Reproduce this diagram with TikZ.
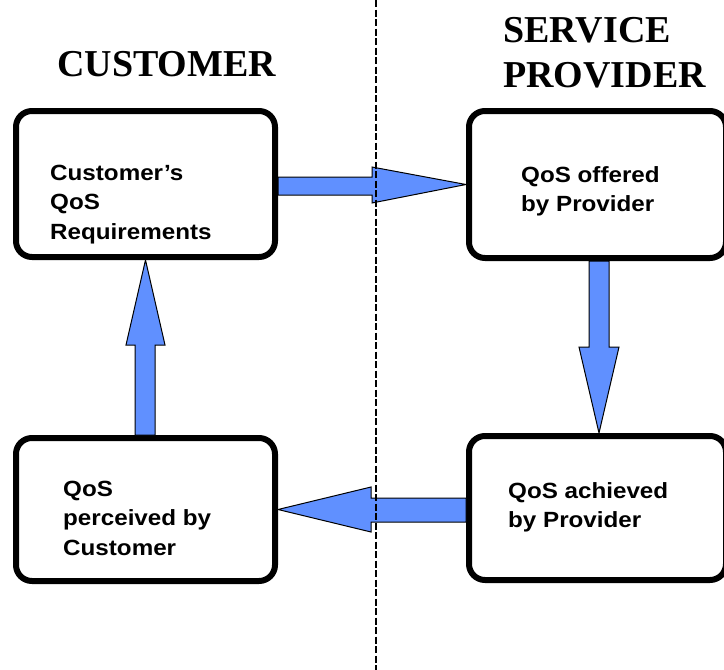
\documentclass[tikz,border=0pt]{standalone}
\usepackage{fontspec}
\setmainfont{Liberation Sans}
\newfontfamily\titlefont{Liberation Serif}
\usetikzlibrary{calc}
\definecolor{arrowblue}{RGB}{96,144,255}
\tikzset{
  box/.style={draw=black, line width=6pt, rounded corners=16pt, fill=white, inner sep=0pt},
  blockarrow/.style={draw=black, line width=1pt, fill=arrowblue, line join=miter},
  boxtext/.style={anchor=base west, inner sep=0pt, font=\fontsize{22}{29.5}\selectfont\bfseries},
  titletext/.style={anchor=base west, inner sep=0pt, font=\titlefont\fontsize{38}{45}\selectfont\bfseries},
  divider/.style={line width=2.2pt, dash pattern=on 7pt off 2.5pt}
}
\newcommand{\boxlines}[1]{\scalebox{1.1}[1]{\begin{tabular}[t]{@{}l@{}}#1\end{tabular}}}
\begin{document}
\begin{tikzpicture}[x=1pt,y=-1pt]
\useasboundingbox (0,0) rectangle (724,670);
% titles
\node[titletext] (tcust) at (57,76) {CUSTOMER};
\node[titletext] (tserv) at (503,42) {SERVICE};
\node[titletext] (tprov) at (503,87) {PROVIDER};
% boxes
\node[box, minimum width=259pt, minimum height=146pt] (tl) at (145.5,184) {};
\node[box, minimum width=257pt, minimum height=147pt] (tr) at (597.5,184.5) {};
\node[box, minimum width=257pt, minimum height=144pt] (br) at (597.5,508) {};
\node[box, minimum width=259pt, minimum height=143pt] (bl) at (145.5,509.5) {};
% texts
\node[boxtext] (tltxt) at (50,180) {\boxlines{Customer’s\\QoS\\Requirements}};
\node[boxtext] (trtxt) at (521,182) {\boxlines{QoS offered\\by Provider}};
\node[boxtext] (brtxt) at (508,498) {\boxlines{QoS achieved\\by Provider}};
\node[boxtext] (bltxt) at (63,496) {\boxlines{QoS\\perceived by\\Customer}};
% arrow right: tl -> tr
\draw[blockarrow] ($(tl.east)+(0,-7)$) -- ($(tl.east)+(94,-7)$) -- ($(tl.east)+(94,-17)$)
  -- (tr.west) -- ($(tl.east)+(94,19)$) -- ($(tl.east)+(94,11)$) -- ($(tl.east)+(0,11)$) -- cycle;
% arrow down: tr -> br
\draw[blockarrow] ($(tr.south)+(-8.5,0)$) -- ($(tr.south)+(-8.5,86)$) -- ($(tr.south)+(-18.5,86)$)
  -- ($(br.north)+(1.5,0)$) -- ($(tr.south)+(21.5,86)$) -- ($(tr.south)+(11.5,86)$) -- ($(tr.south)+(11.5,0)$) -- cycle;
% arrow left: br -> bl
\draw[blockarrow] ($(br.west)+(0,-10)$) -- ($(br.west)+(-95,-10)$) -- ($(br.west)+(-95,-21)$)
  -- (bl.east) -- ($(br.west)+(-95,24)$) -- ($(br.west)+(-95,14)$) -- ($(br.west)+(0,14)$) -- cycle;
% arrow up: bl -> tl
\draw[blockarrow] ($(bl.north)+(-10.5,0)$) -- ($(bl.north)+(-10.5,-90)$) -- ($(bl.north)+(-19.5,-90)$)
  -- (tl.south) -- ($(bl.north)+(19.5,-90)$) -- ($(bl.north)+(9.5,-90)$) -- ($(bl.north)+(9.5,0)$) -- cycle;
% divider (on top)
\coordinate (dtop) at (376,0);
\coordinate (dbot) at (376,670);
\draw[divider] (dtop) -- (dbot);
\end{tikzpicture}
\end{document}
